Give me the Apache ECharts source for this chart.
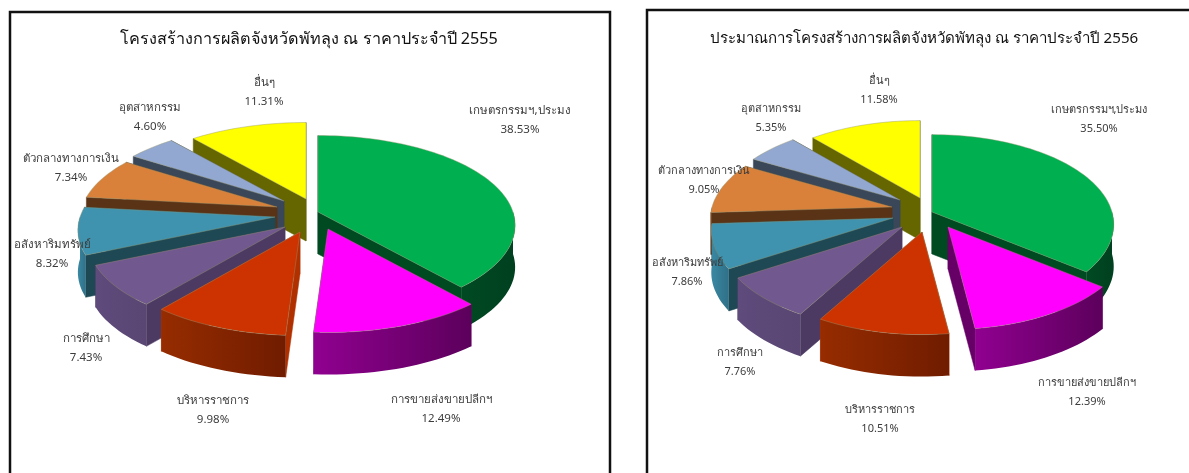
<!DOCTYPE html>
<html>
<head>
<meta charset="utf-8">
<title>โครงสร้างการผลิตจังหวัดพัทลุง</title>
<script src="https://cdn.jsdelivr.net/npm/echarts@6/dist/echarts.min.js"></script>
<style>
    html, body {margin: 0; padding: 0; background: #fff;}
    #chart {width: 1189px; height: 473px;}
</style>
</head>
<body>
<div id="chart"></div>
<script>
'use strict';

var categories = ['เกษตรกรรมฯ,ประมง', 'การขายส่งขายปลีกฯ', 'บริหารราชการ', 'การศึกษา', 'อสังหาริมทรัพย์', 'ตัวกลางทางการเงิน', 'อุตสาหกรรม', 'อื่นๆ'];
var values2555 = [38.53, 12.49, 9.98, 7.43, 8.32, 7.34, 4.60, 11.31];
var values2556 = [35.50, 12.39, 10.51, 7.76, 7.86, 9.05, 5.35, 11.58];
var title2555 = 'โครงสร้างการผลิตจังหวัดพัทลุง ณ ราคาประจำปี 2555';
var title2556 = 'ประมาณการโครงสร้างการผลิตจังหวัดพัทลุง ณ ราคาประจำปี 2556';

// slice colours: top face, cut walls, outer wall from/to
var topColors = ['#00b050', '#ff00ff', '#cc3300', '#71588f', '#3f93ae', '#d9813a', '#92a8d0', '#ffff00'];
var cutColors = ['#004a22', '#660066', '#b03000', '#4c3a63', '#1d4854', '#5a3216', '#3a4759', '#666600'];
var wallFrom = ['#004a22', '#900090', '#962c00', '#5f4b7c', '#3a88a3', '#8a5020', '#5a6a88', '#808000'];
var wallTo = ['#004020', '#5c005c', '#701c00', '#594672', '#2f7088', '#6a3c18', '#4a5870', '#666600'];

// layout of the two pies, pull is how far each slice is moved out of the centre
var layouts = [
    {
        cx: 306, cy: 216, rx: 195, ry: 90, persp: 0.15, depth: 42,
        titleX: 304, titleY: 26, titleSize: 16.2, labelSize: 11.5,
        values: values2555,
        pull: [[12, -4], [22, 13], [-6, 16], [-21, 11], [-31, 1], [-29, -9], [-22, -15], [0, -17]],
        labels: [[520, 120], [441, 409], [213, 410], [86, 348], [52, 254], [71, 168], [150, 117], [264, 92]]
    },
    {
        cx: 920, cy: 216, rx: 180, ry: 90, persp: 0.14, depth: 42,
        titleX: 919, titleY: 26, titleSize: 15.1, labelSize: 11,
        values: values2556,
        pull: [[12, -4], [28, 11], [2, 16], [-18, 11], [-27, 2], [-28, -9], [-20, -16], [0, -18]],
        labels: [[1099, 119], [1087, 392], [880, 419], [740, 362], [687, 272], [704, 180], [771, 118], [879, 90]]
    }
];

function toRad(deg) {
    return deg * Math.PI / 180;
}

function sliceAngles(values) {
    var total = 0, out = [], i;
    for (i = 0; i < values.length; i++) {
        total += values[i];
    }
    var sum = 0;
    for (i = 0; i < values.length; i++) {
        out.push([sum / total * 360, (sum + values[i]) / total * 360]);
        sum += values[i];
    }
    return out;
}

function project(l, pull, deg, r, down) {
    var a = toRad(deg);
    var p = 1 - l.persp * Math.cos(a);
    return [
        l.cx + pull[0] + r * l.rx * Math.sin(a) * p,
        l.cy + pull[1] - r * l.ry * Math.cos(a) * p + down
    ];
}

function arcPoints(l, pull, from, to, down) {
    var pts = [], n = Math.max(2, Math.ceil((to - from) / 2));
    for (var i = 0; i <= n; i++) {
        pts.push(project(l, pull, from + (to - from) * i / n, 1, down));
    }
    return pts;
}

function cutWall(l, pull, deg, color) {
    return {
        type: 'polygon',
        shape: {points: [
            project(l, pull, deg, 0, 0),
            project(l, pull, deg, 1, 0),
            project(l, pull, deg, 1, l.depth),
            project(l, pull, deg, 0, l.depth)
        ]},
        style: {fill: color, stroke: color, lineWidth: 0.5}
    };
}

function makeRenderItem(l) {
    var angles = sliceAngles(l.values);
    return function (params, api) {
        var i = api.value(0);
        var from = angles[i][0], to = angles[i][1];
        var pull = l.pull[i];
        var rimFrom = project(l, pull, from, 1, 0);
        var rimTo = project(l, pull, to, 1, 0);
        var children = [cutWall(l, pull, from, cutColors[i]), cutWall(l, pull, to, cutColors[i])];
        // wall whose rim is further back goes first
        if (rimTo[1] < rimFrom[1]) {
            children.reverse();
        }
        // outer wall only shows on the front half of the pie
        var wallStart = Math.max(from, 90), wallEnd = Math.min(to, 270);
        if (wallEnd > wallStart) {
            var lower = arcPoints(l, pull, wallStart, wallEnd, l.depth).reverse();
            children.push({
                type: 'polygon',
                shape: {points: arcPoints(l, pull, wallStart, wallEnd, 0).concat(lower)},
                style: {
                    fill: new echarts.graphic.LinearGradient(0, 0, 1, 0, [
                        {offset: 0, color: wallFrom[i]},
                        {offset: 1, color: wallTo[i]}
                    ])
                }
            });
        }
        children.push({
            type: 'polygon',
            shape: {points: [project(l, pull, 0, 0, 0)].concat(arcPoints(l, pull, from, to, 0))},
            style: {fill: topColors[i], stroke: 'rgba(150,150,110,0.7)', lineWidth: 0.6}
        });
        return {type: 'group', children: children};
    };
}

// back slices first so the front ones paint over them
function drawOrder(values) {
    var angles = sliceAngles(values);
    return angles.map(function (a, i) {
        return {i: i, key: Math.cos(toRad((a[0] + a[1]) / 2))};
    }).sort(function (a, b) {
        return b.key - a.key;
    }).map(function (d) {
        return [d.i];
    });
}

function labelElements(l) {
    return categories.map(function (name, i) {
        return {
            type: 'text',
            x: l.labels[i][0],
            y: l.labels[i][1],
            z: 20,
            style: {
                text: name + '\n' + l.values[i].toFixed(2) + '%',
                fill: '#3c3c3c',
                font: l.labelSize + 'px "Noto Sans", Tahoma, sans-serif',
                lineHeight: 19,
                align: 'center',
                verticalAlign: 'middle'
            }
        };
    });
}

function frame(x, y, w, h) {
    return {
        type: 'rect',
        z: 0,
        shape: {x: x, y: y, width: w, height: h},
        style: {fill: '#fff', stroke: '#111', lineWidth: 2.5}
    };
}

var chart = echarts.init(document.getElementById('chart'), null, {renderer: 'canvas'});

chart.setOption({
    animation: false,
    backgroundColor: '#fff',
    title: layouts.map(function (l, i) {
        return {
            text: i === 0 ? title2555 : title2556,
            left: l.titleX,
            top: l.titleY,
            textAlign: 'center',
            textStyle: {
                color: '#111',
                fontSize: l.titleSize,
                fontWeight: 'normal',
                fontFamily: '"Noto Sans", Tahoma, sans-serif'
            }
        };
    }),
    graphic: {
        elements: [frame(10, 12, 600, 480), frame(647, 10, 560, 480)]
            .concat(labelElements(layouts[0]))
            .concat(labelElements(layouts[1]))
    },
    series: layouts.map(function (l) {
        return {
            type: 'custom',
            coordinateSystem: 'none',
            z: 5,
            renderItem: makeRenderItem(l),
            data: drawOrder(l.values)
        };
    })
});
</script>
</body>
</html>
